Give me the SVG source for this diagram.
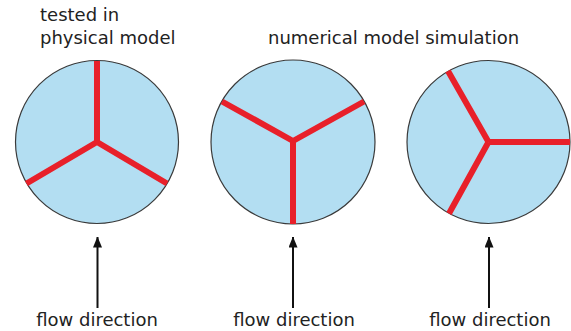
<svg xmlns="http://www.w3.org/2000/svg" width="571" height="331" viewBox="0 0 571 331">
<style>
.disc{fill:#b3def2;stroke:#3a3a3a;stroke-width:1.2}
.blade{stroke:#e8202a;stroke-width:6;stroke-linecap:butt;fill:none}
.lbl{font-family:"DejaVu Sans",sans-serif;font-size:18px;fill:#222}
.flow{stroke:#111;stroke-width:2}
</style>
<defs>
<marker id="ah" viewBox="0 0 11 9" refX="10.5" refY="4.5" markerWidth="11" markerHeight="9" orient="auto" markerUnits="userSpaceOnUse">
<path d="M0,0 L11,4.5 L0,9 Z" fill="#111"/>
</marker>
</defs>
<text class="lbl" x="40" y="21">tested in</text>
<text class="lbl" x="40" y="44">physical model</text>
<text class="lbl" x="268" y="44">numerical model simulation</text>
<g id="model1">
<circle class="disc" cx="97" cy="142" r="81.5"/>
<path class="blade" d="M97,61 L97,142 M97,142 L26.5,183.5 M97,142 L167,183.5"/>
</g>
<g id="model2">
<circle class="disc" cx="293" cy="142" r="82"/>
<path class="blade" d="M293,224 L293,141 M293,141 L222,101.5 M293,141 L364,101.5"/>
</g>
<g id="model3">
<circle class="disc" cx="488.5" cy="142" r="81.5"/>
<path class="blade" d="M488.5,142 L570,142 M488.5,142 L448,71 M488.5,142 L449,213.5"/>
</g>
<g id="connectors">
<line class="flow" x1="97.5" y1="308" x2="97.5" y2="237" marker-end="url(#ah)"/>
<line class="flow" x1="293" y1="308" x2="293" y2="237" marker-end="url(#ah)"/>
<line class="flow" x1="489" y1="308" x2="489" y2="237" marker-end="url(#ah)"/>
</g>
<text class="lbl" x="97" y="326" text-anchor="middle">flow direction</text>
<text class="lbl" x="294" y="326" text-anchor="middle">flow direction</text>
<text class="lbl" x="490" y="326" text-anchor="middle">flow direction</text>
</svg>
